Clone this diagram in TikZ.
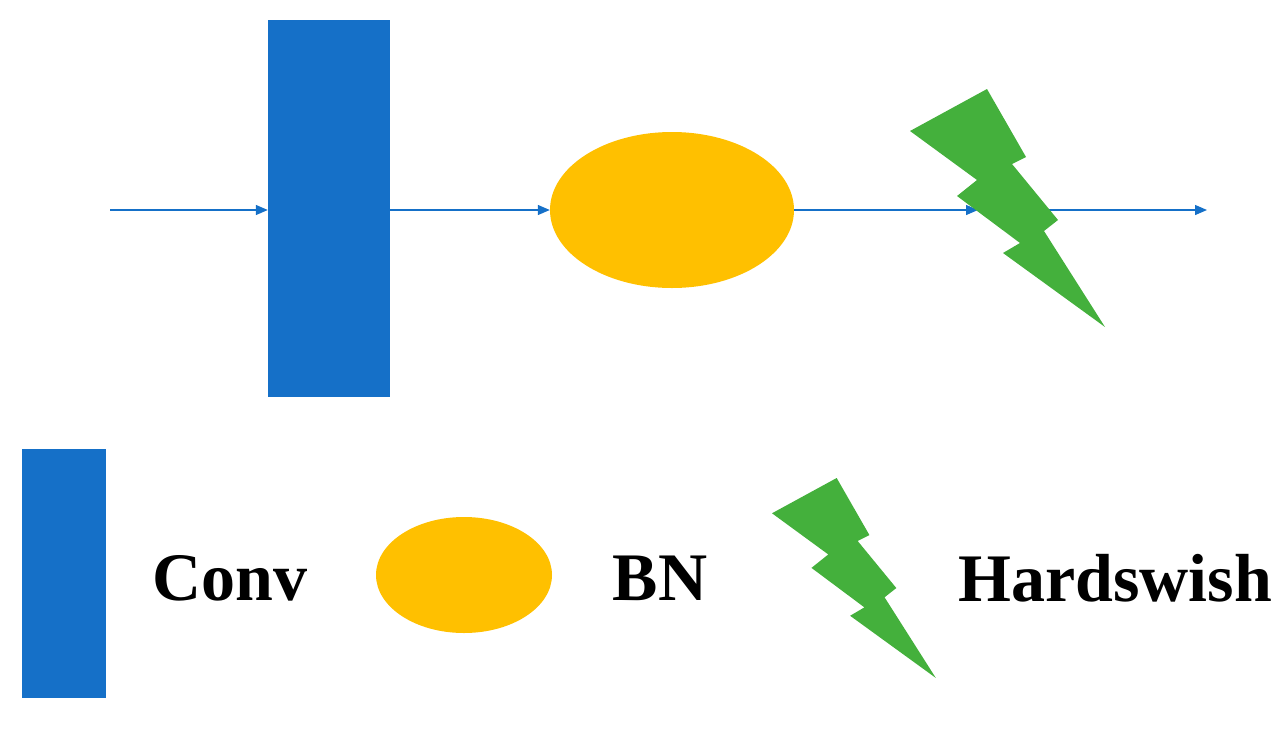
\documentclass[tikz,border=0pt]{standalone}
\usepackage{fontspec}
\setmainfont{Liberation Serif}
\usetikzlibrary{shapes.geometric,arrows.meta}
\begin{document}
\begin{tikzpicture}[x=1pt,y=-1pt,
  conv/.style={fill=convblue,draw=none},
  bn/.style={ellipse,fill=bnyellow,draw=none,inner sep=0pt},
  bolt/.style={fill=boltgreen,draw=none},
  flow/.style={draw=convblue,line width=1.3pt,-{Triangle[length=12pt,width=10pt]}},
  lbl/.style={font=\fontsize{68}{72}\selectfont\bfseries,inner sep=0pt}]
\definecolor{convblue}{HTML}{1570C8}
\definecolor{bnyellow}{HTML}{FFC000}
\definecolor{boltgreen}{HTML}{44B03C}
\useasboundingbox (0,0) rectangle (1285,734);
\def\boltpath{(910,131) -- (987,89) -- (1026,157) -- (1012,164) -- (1058,220) -- (1044,231) -- (1105,327) -- (1003,253) -- (1020,243) -- (957,196) -- (977,180) -- cycle}
% main flow
\coordinate (in) at (110,210);
\node[conv,minimum width=122pt,minimum height=377pt,inner sep=0pt] (c) at (329,208.5) {};
\node[bn,minimum width=244pt,minimum height=156pt] (b) at (672,210) {};
\coordinate (h) at (978,210);
\coordinate (out) at (1207,210);
\draw[flow] (in) -- (in -| c.west);
\draw[flow] (in -| c.east) -- (b.west);
\draw[flow] (b.east) -- (h);
\draw[flow] (h) -- (out);
\fill[bolt] \boltpath;
% legend
\node[conv,minimum width=84pt,minimum height=249pt,inner sep=0pt] (lc) at (64,573.5) {};
\node[lbl] (tc) at (230,578) {Conv};
\node[bn,minimum width=176pt,minimum height=116pt] (lb) at (464,575) {};
\node[lbl] (tb) at (660,578) {BN};
\begin{scope}[shift={(772,478)},scale=0.84,shift={(-910,-89)}]
\fill[bolt] \boltpath;
\end{scope}
\node[lbl] (th) at (1115,578) {Hardswish};
\end{tikzpicture}
\end{document}
